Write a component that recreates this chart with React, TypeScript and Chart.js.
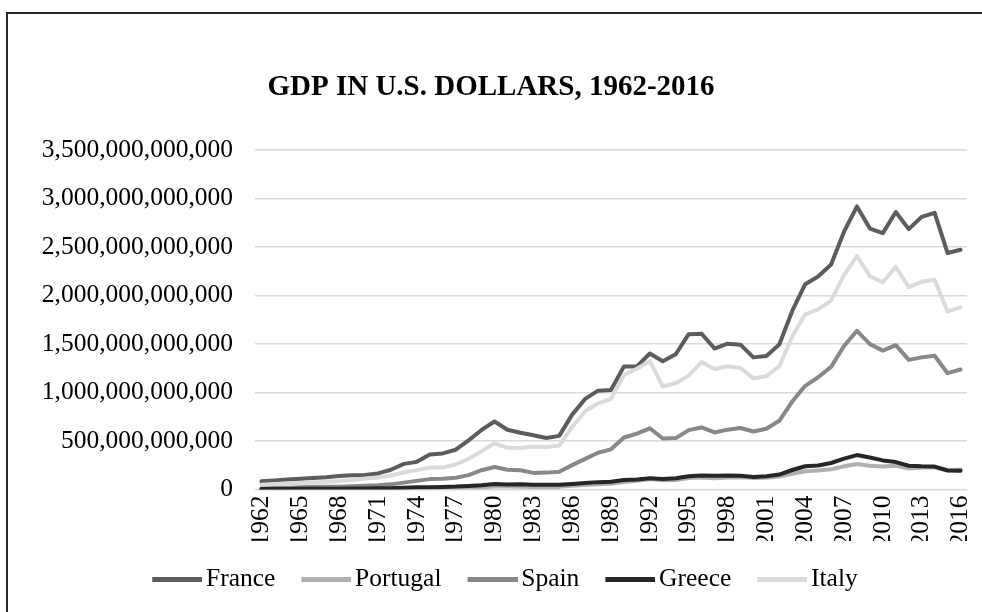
import { useEffect, useRef } from 'react';
import { Chart, registerables } from 'chart.js';

Chart.register(...registerables);

const years = [
  '1962', '1963', '1964', '1965', '1966', '1967', '1968', '1969', '1970', '1971',
  '1972', '1973', '1974', '1975', '1976', '1977', '1978', '1979', '1980', '1981',
  '1982', '1983', '1984', '1985', '1986', '1987', '1988', '1989', '1990', '1991',
  '1992', '1993', '1994', '1995', '1996', '1997', '1998', '1999', '2000', '2001',
  '2002', '2003', '2004', '2005', '2006', '2007', '2008', '2009', '2010', '2011',
  '2012', '2013', '2014', '2015', '2016',
];

const xTickLabels = [
  '1962', '1965', '1968', '1971', '1974', '1977', '1980', '1983', '1986', '1989',
  '1992', '1995', '1998', '2001', '2004', '2007', '2010', '2013', '2016',
];

// GDP in billions of U.S. dollars
const france = [
  85, 94, 102, 110, 119, 127, 138, 147, 149, 166,
  204, 264, 285, 360, 372, 410, 507, 614, 701, 616,
  585, 560, 531, 553, 772, 934, 1019, 1026, 1269, 1269,
  1402, 1323, 1394, 1601, 1606, 1453, 1503, 1493, 1362, 1377,
  1494, 1841, 2116, 2196, 2319, 2657, 2918, 2690, 2643, 2861,
  2684, 2811, 2852, 2438, 2471,
];
const portugal = [
  3, 3, 4, 4, 5, 5, 6, 6, 7, 8,
  10, 13, 15, 16, 17, 19, 20, 23, 32, 30,
  29, 25, 23, 27, 38, 46, 53, 58, 78, 89,
  109, 96, 99, 118, 123, 117, 124, 127, 118, 121,
  133, 163, 188, 197, 208, 239, 262, 244, 238, 245,
  216, 226, 230, 199, 206,
];
const spain = [
  14, 16, 19, 22, 26, 28, 29, 33, 39, 44,
  53, 71, 89, 107, 110, 122, 148, 199, 232, 203,
  198, 171, 174, 183, 251, 316, 379, 414, 536, 576,
  631, 526, 530, 612, 640, 588, 617, 634, 598, 627,
  708, 907, 1069, 1157, 1264, 1479, 1636, 1499, 1432, 1488,
  1336, 1362, 1379, 1199, 1237,
];
const greece = [
  4, 5, 6, 7, 7, 8, 8, 10, 11, 12,
  14, 19, 22, 24, 27, 30, 37, 45, 57, 52,
  54, 50, 49, 49, 57, 66, 76, 79, 98, 104,
  116, 108, 116, 137, 145, 143, 145, 142, 130, 136,
  154, 201, 240, 247, 273, 318, 355, 330, 300, 283,
  245, 239, 236, 196, 193,
];
const italy = [
  50, 57, 63, 67, 73, 81, 87, 97, 113, 124,
  145, 175, 200, 227, 226, 258, 316, 395, 476, 430,
  427, 442, 437, 453, 645, 806, 888, 935, 1181, 1245,
  1323, 1062, 1096, 1174, 1313, 1242, 1271, 1253, 1146, 1168,
  1271, 1577, 1806, 1857, 1948, 2211, 2407, 2199, 2136, 2294,
  2087, 2141, 2162, 1836, 1877,
];

const seriesNames = ['France', 'Portugal', 'Spain', 'Greece', 'Italy'];
const seriesValues = [france, portugal, spain, greece, italy];
const seriesColors = ['#5c5c5c', '#b0b0b0', '#888888', '#262626', '#dadada'];

const FONT = "'Liberation Serif', 'Times New Roman', serif";

function makeLegendLine(color: string): HTMLCanvasElement {
  // line 50px long, placed so that it starts at the legend box's left edge
  const c = document.createElement('canvas');
  c.width = 59;
  c.height = 5;
  const ctx = c.getContext('2d')!;
  ctx.fillStyle = color;
  ctx.fillRect(9, 0, 50, 5);
  return c;
}

const legendShift = {
  id: 'legendShift',
  afterLayout(chart: any) {
    const lg = chart.legend;
    if (lg) {
      lg.left += 14;
      lg.right += 14;
    }
  },
};

export default function App() {
  const ref = useRef<HTMLCanvasElement | null>(null);

  useEffect(() => {
    if (!ref.current) return;
    document.body.style.margin = '0';
    document.body.style.overflow = 'hidden';
    const images = seriesColors.map((c) => makeLegendLine(c));

    const chart = new Chart(ref.current, {
      type: 'line',
      data: {
        labels: years,
        datasets: seriesNames.map((name, i) => ({
          label: name,
          data: seriesValues[i],
          borderColor: seriesColors[i],
          backgroundColor: seriesColors[i],
          borderWidth: 4,
          pointRadius: 0,
          pointHoverRadius: 0,
          tension: 0,
          fill: false,
          borderJoinStyle: 'round' as const,
          borderCapStyle: 'round' as const,
          order: seriesNames.length - 1 - i,
        })),
      },
      options: {
        responsive: false,
        animation: false,
        layout: { padding: { left: 15, right: 15, top: 0, bottom: 9.5 } },
        plugins: {
          tooltip: { enabled: false },
          title: {
            display: true,
            text: 'GDP IN U.S. DOLLARS, 1962-2016',
            color: '#000',
            font: { family: FONT, size: 29, weight: 'bold' },
            padding: { top: 70, bottom: 45.2 },
          },
          legend: {
            display: true,
            position: 'bottom',
            labels: {
              color: '#000',
              font: { family: FONT, size: 25.5 },
              usePointStyle: true,
              pointStyleWidth: 41,
              boxHeight: 5,
              padding: 26,
              generateLabels: (ch: any) => {
                const items = Chart.defaults.plugins.legend.labels.generateLabels(ch);
                return items
                  .sort((a: any, b: any) => a.datasetIndex - b.datasetIndex)
                  .map((it: any) => ({ ...it, pointStyle: images[it.datasetIndex], lineWidth: 0 }));
              },
            },
          },
        },
        scales: {
          x: {
            type: 'category',
            offset: true,
            grid: { display: false, drawTicks: false },
            border: { display: false },
            afterFit: (scale: any) => {
              scale.height = 51.5;
              scale.paddingLeft = 0;
              scale.paddingRight = 0;
            },
            ticks: {
              autoSkip: false,
              maxRotation: 90,
              minRotation: 90,
              padding: 6,
              color: '#000',
              font: { family: FONT, size: 25.5 },
              callback: function (this: any, value: any) {
                const lab = this.getLabelForValue(value);
                return xTickLabels.includes(lab) ? lab : '';
              },
            },
          },
          y: {
            min: 0,
            max: 3500,
            grid: { color: '#d9d9d9', lineWidth: 1.5, drawTicks: false },
            border: { display: false },
            afterFit: (scale: any) => {
              scale.width = 240;
            },
            ticks: {
              stepSize: 500,
              padding: 22,
              color: '#000',
              font: { family: FONT, size: 25.5 },
              callback: (v: any) => (Number(v) * 1e9).toLocaleString('en-US'),
            },
          },
        },
      },
      plugins: [legendShift],
    });
    return () => chart.destroy();
  }, []);

  return (
    <div
      style={{
        position: 'fixed',
        left: 0,
        top: 0,
        width: 982,
        height: 612,
        overflow: 'hidden',
        background: '#fff',
      }}
    >
      <div
        style={{
          position: 'absolute',
          left: 6,
          top: 12,
          width: 1000,
          height: 640,
          border: '2px solid #262626',
        }}
      />
      <canvas
        ref={ref}
        width={982}
        height={612}
        style={{ position: 'absolute', left: 0, top: 0, width: 982, height: 612 }}
      />
    </div>
  );
}
